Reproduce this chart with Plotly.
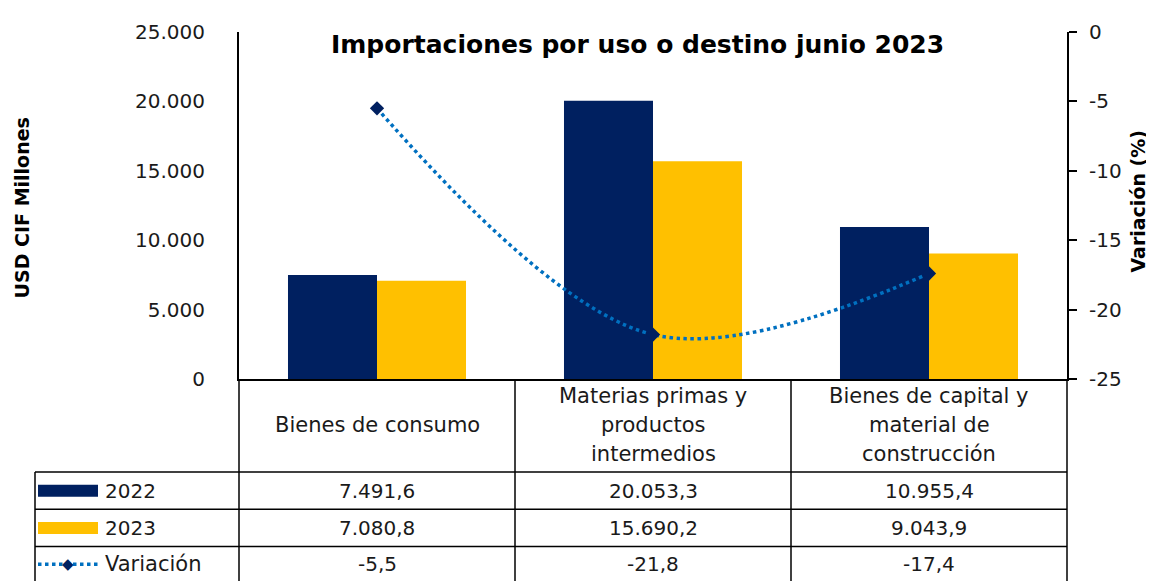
import plotly.graph_objects as go

categories = ["Bienes de consumo", "Materias primas y<br>productos<br>intermedios",
              "Bienes de capital y<br>material de<br>construcción"]
vals_2022 = [7491.6, 20053.3, 10955.4]
vals_2023 = [7080.8, 15690.2, 9043.9]
variacion = [-5.5, -21.8, -17.4]
txt_2022 = ["7.491,6", "20.053,3", "10.955,4"]
txt_2023 = ["7.080,8", "15.690,2", "9.043,9"]
txt_var = ["-5,5", "-21,8", "-17,4"]
right_tickvals = [0, -5, -10, -15, -20, -25]
right_ticktext = ["0", "-5", "-10", "-15", "-20", "-25"]

NAVY = "#002060"
GOLD = "#FFC000"
BLUE = "#0070C0"
FONT = "DejaVu Sans"
TXT = "#1a1a1a"

OFF = 8  # page body margin
FW, FH = 1154 - OFF, 581 - OFF
# screen-pixel geometry of plot area
L, R, T, B = 239, 1067, 25, 379
W, H = R - L, B - T
NC = len(categories)


def yp(p):
    return (B - p) / H


def xp(p):
    return (p - L) / W


def xc(i):
    return (i + 0.5) / NC


xs = list(range(NC))

fig = go.Figure()
fig.add_trace(go.Bar(x=xs, y=vals_2022, name="2022", marker_color=NAVY, marker_line_width=0))
fig.add_trace(go.Bar(x=xs, y=vals_2023, name="2023", marker_color=GOLD, marker_line_width=0))
fig.add_trace(go.Scatter(x=xs, y=variacion, yaxis="y2", name="Variación", mode="lines+markers",
                         line=dict(color=BLUE, dash="dot", width=3.5, shape="spline", smoothing=1),
                         marker=dict(symbol="diamond", size=11, color=NAVY)))

shapes = []
annotations = []
lc = dict(color="black", width=1.5)

# table lines
for k in range(NC + 1):
    xb = k / NC
    shapes.append(dict(type="line", xref="paper", yref="paper", x0=xb, x1=xb, y0=0, y1=yp(600), line=lc))
xl = xp(35)
shapes.append(dict(type="line", xref="paper", yref="paper", x0=xl, x1=xl, y0=yp(474), y1=yp(600), line=lc))
for yy in [474, 512, 550]:
    shapes.append(dict(type="line", xref="paper", yref="paper", x0=xl, x1=1, y0=yp(yy), y1=yp(yy), line=lc))

WORD = 21
NUM = 20
# header labels
for i, c in enumerate(categories):
    lines = c.split("<br>")
    n = len(lines)
    for j, ln in enumerate(lines):
        ypix = 426 + (j - (n - 1) / 2) * 30
        annotations.append(dict(x=xc(i), y=yp(ypix), xref="paper", yref="paper", text=ln, showarrow=False,
                                font=dict(family=FONT, size=WORD, color=TXT), xanchor="center", yanchor="middle"))

rows = [(txt_2022, 493), (txt_2023, 531), (txt_var, 568)]
for vals, ypix in rows:
    for i, v in enumerate(vals):
        annotations.append(dict(x=xc(i), y=yp(ypix), xref="paper", yref="paper", text=v, showarrow=False,
                                font=dict(family=FONT, size=NUM, color=TXT), xanchor="center", yanchor="middle"))

# legend cells
for name, col, ypix in [("2022", NAVY, 493), ("2023", GOLD, 531)]:
    shapes.append(dict(type="rect", xref="paper", yref="paper", x0=xp(38), x1=xp(98),
                       y0=yp(ypix - 6), y1=yp(ypix + 6), fillcolor=col, line=dict(width=0)))
    annotations.append(dict(x=xp(103), y=yp(ypix), xref="paper", yref="paper", text=name, showarrow=False,
                            font=dict(family=FONT, size=NUM, color=TXT), xanchor="left", yanchor="middle"))
shapes.append(dict(type="line", xref="paper", yref="paper", x0=xp(38), x1=xp(98), y0=yp(568), y1=yp(568),
                   line=dict(color=BLUE, dash="dot", width=3.5)))
annotations.append(dict(x=xp(68), y=yp(568), xref="paper", yref="paper", text="◆", showarrow=False,
                        font=dict(family=FONT, size=15, color=NAVY), xanchor="center", yanchor="middle"))
annotations.append(dict(x=xp(103), y=yp(568), xref="paper", yref="paper", text="Variación", showarrow=False,
                        font=dict(family=FONT, size=WORD, color=TXT), xanchor="left", yanchor="middle"))

# axis titles and chart title
annotations.append(dict(x=xp(22), y=yp(205), xref="paper", yref="paper", text="<b>USD CIF Millones</b>",
                        textangle=-90, showarrow=False, font=dict(family=FONT, size=19, color="black"),
                        xanchor="center", yanchor="middle"))
annotations.append(dict(x=xp(1138), y=yp(198), xref="paper", yref="paper", text="<b>Variación (%)</b>",
                        textangle=-90, showarrow=False, font=dict(family=FONT, size=19, color="black"),
                        xanchor="center", yanchor="middle"))
annotations.append(dict(x=xp(637), y=yp(38), xref="paper", yref="paper",
                        text="<b>Importaciones por uso o destino junio 2023</b>", showarrow=False,
                        font=dict(family=FONT, size=25, color="black"), xanchor="center", yanchor="middle"))

fig.update_layout(
    width=FW, height=FH,
    margin=dict(l=L - OFF, r=FW - (R - OFF), t=T - OFF, b=FH - (B - OFF), pad=0),
    plot_bgcolor="white", paper_bgcolor="white",
    separators=",.",
    showlegend=False,
    barmode="group", bargap=0.355, bargroupgap=0,
    font=dict(family=FONT, size=18, color=TXT),
    xaxis=dict(range=[-0.5, NC - 0.5], showticklabels=False, showline=True, linecolor="black", linewidth=2,
               ticks="", showgrid=False, zeroline=False, fixedrange=True),
    yaxis=dict(range=[0, 25000], dtick=5000, tickformat=",d", showline=True, linecolor="black", linewidth=2,
               ticks="", showgrid=False, zeroline=False, ticklabelstandoff=28,
               tickfont=dict(family=FONT, size=20, color=TXT)),
    yaxis2=dict(range=[-25, 0], tickvals=right_tickvals, ticktext=right_ticktext, overlaying="y", side="right",
                showline=True, linecolor="black",
                linewidth=2, ticks="outside", ticklen=8, tickwidth=2, tickcolor="black", showgrid=False,
                zeroline=False, ticklabelstandoff=8, tickfont=dict(family=FONT, size=20, color=TXT)),
    shapes=shapes, annotations=annotations,
)

fig.write_html("out.html")
